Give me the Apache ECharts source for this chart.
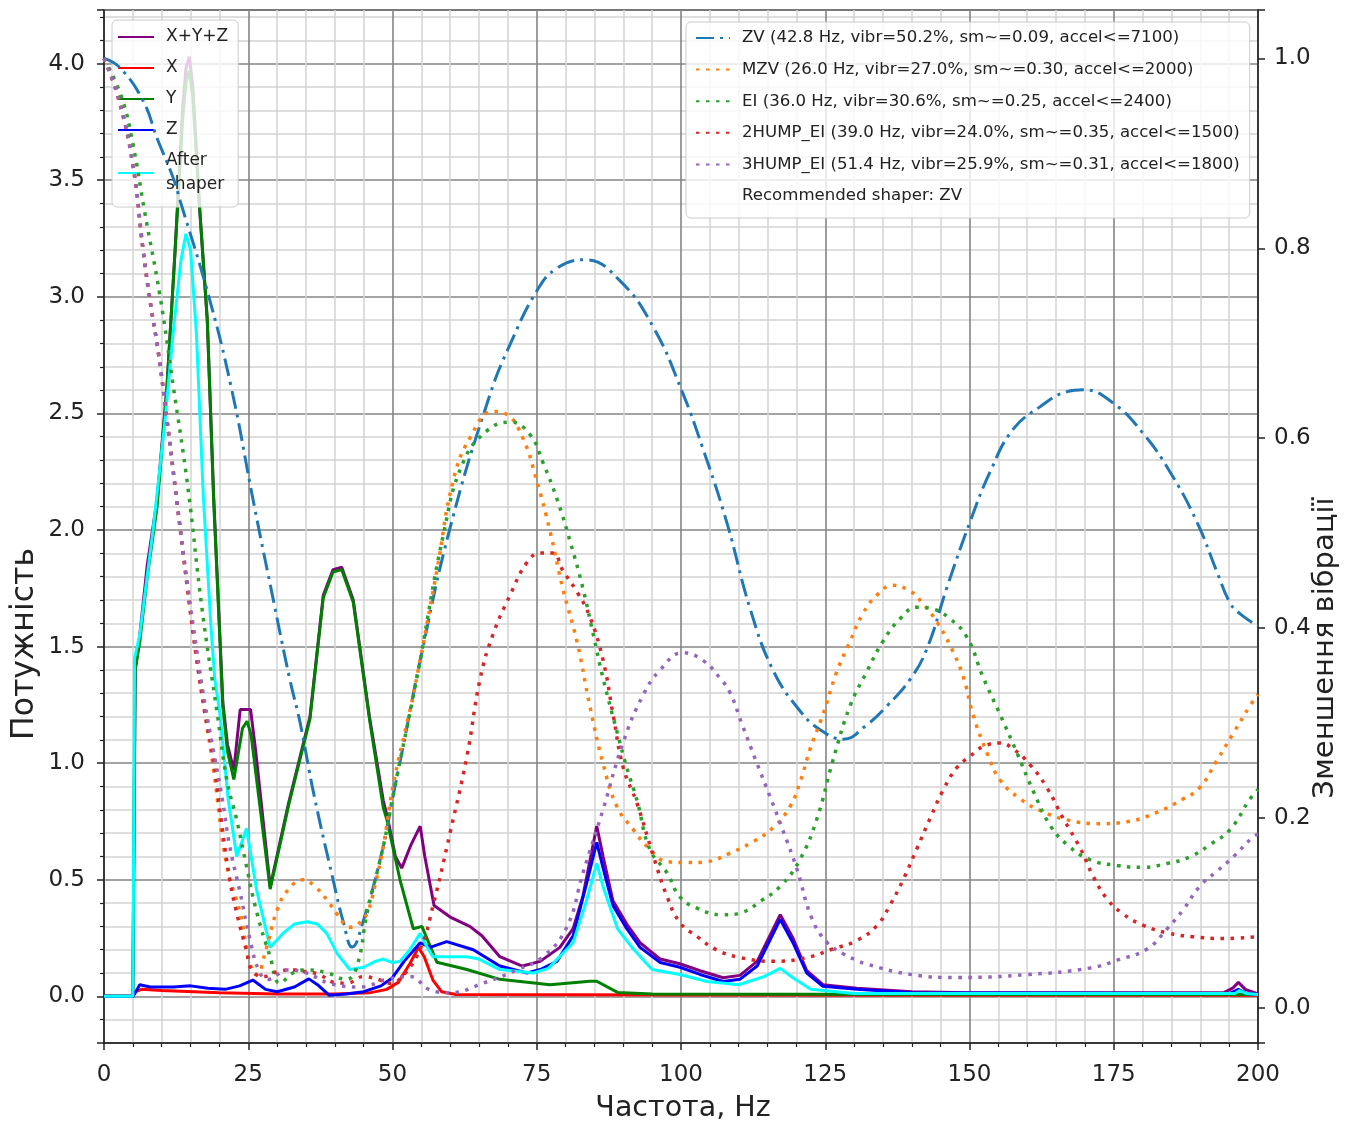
<!DOCTYPE html>
<html>
<head>
<meta charset="utf-8">
<script src="https://cdn.jsdelivr.net/npm/echarts@6.0.0/dist/echarts.min.js"></script>
<style>
html,body{margin:0;padding:0;background:#fff;}
#chart{width:1354px;height:1126px;}
</style>
</head>
<body>
<div id="chart"></div>
<script>
// ---------- tick labels / axis titles ----------
const xTitle = 'Частота, Hz';
const yLeftTitle = 'Потужність';
const yRightTitle = 'Зменшення вібрації';

// ---------- PSD series (left axis), [Hz, power] ----------
const psdXYZ = [[0,0],[5,0],[5.4,1.4],[6.2,1.55],[7.5,1.85],[9.2,2.13],[10.9,2.61],[12.3,3.19],[12.8,3.42],[13.6,3.8],[14.2,3.98],[14.8,4.03],[15.4,3.9],[16.6,3.37],[17.9,2.9],[19.0,2.15],[20.6,1.26],[21.4,1.08],[22.5,0.97],[23.6,1.23],[25.4,1.23],[26.3,1.05],[28.8,0.47],[32,0.83],[35.7,1.2],[38,1.72],[39.7,1.83],[41.2,1.84],[43.2,1.7],[46,1.2],[48.4,0.84],[49.2,0.76],[50.5,0.6],[51.6,0.55],[53.2,0.65],[54.8,0.73],[55.6,0.6],[57.2,0.39],[60,0.34],[63.4,0.3],[65.5,0.26],[68.6,0.17],[72.5,0.13],[75.6,0.15],[79,0.21],[81.3,0.29],[83,0.43],[84.6,0.63],[85.4,0.73],[86.5,0.6],[88.2,0.41],[90.6,0.31],[92.9,0.23],[96.4,0.16],[99.8,0.14],[103.3,0.11],[107.3,0.08],[110.2,0.09],[113.2,0.15],[115.4,0.26],[117.2,0.35],[119.4,0.25],[121.8,0.11],[124.6,0.05],[130.5,0.035],[140,0.02],[150,0.015],[170,0.015],[194,0.015],[195.6,0.035],[196.6,0.06],[197.8,0.03],[200,0.01]];
const psdX = [[0,0],[5,0],[5.5,0.02],[6.5,0.03],[10,0.025],[20,0.015],[30,0.01],[40,0.01],[46,0.015],[49,0.03],[51,0.06],[53,0.14],[54.5,0.21],[55.5,0.17],[57,0.07],[58.5,0.02],[61,0.008],[100,0.006],[150,0.005],[200,0.005]];
const psdY = [[0,0],[5,0],[5.4,1.4],[6.2,1.52],[7.5,1.8],[9.2,2.1],[10.9,2.61],[12.3,3.19],[12.8,3.4],[13.6,3.75],[14.2,3.92],[14.8,3.97],[15.4,3.85],[16.6,3.37],[17.9,2.9],[19.0,2.13],[20.6,1.24],[21.4,1.05],[22.5,0.93],[24.0,1.15],[24.8,1.18],[25.5,1.12],[28.8,0.46],[32,0.82],[35.7,1.19],[38,1.71],[39.7,1.82],[41.2,1.83],[43.2,1.69],[46,1.19],[48.4,0.81],[49,0.76],[51.3,0.5],[53.6,0.29],[55.1,0.3],[57.7,0.146],[62.9,0.115],[68.6,0.073],[77.3,0.05],[84.2,0.065],[85.4,0.065],[89,0.017],[95,0.01],[150,0.008],[200,0.008]];
const psdZ = [[0,0],[5,0],[5.5,0.02],[6.2,0.05],[8,0.04],[12,0.04],[15,0.045],[18,0.035],[21,0.03],[23.5,0.045],[25.8,0.07],[28,0.03],[30,0.02],[33,0.04],[35.5,0.075],[37,0.05],[39,0.005],[42,0.01],[45,0.02],[48,0.045],[50,0.08],[52,0.15],[54.8,0.23],[56.5,0.21],[59.4,0.235],[64,0.2],[68.6,0.13],[73.3,0.1],[75.6,0.115],[78.5,0.15],[81.3,0.26],[83.7,0.49],[85.4,0.66],[86.5,0.55],[88.2,0.39],[90.6,0.29],[92.9,0.21],[96.4,0.145],[99.8,0.125],[103.3,0.094],[107.3,0.064],[110.2,0.073],[113.2,0.13],[115.4,0.24],[117.2,0.33],[119.4,0.23],[121.8,0.1],[124.6,0.043],[130.5,0.03],[140,0.015],[195,0.012],[196.6,0.03],[198,0.012],[200,0.008]];
const psdAfter = [[0,0],[5,0],[5.3,1.45],[6.2,1.55],[8.5,2.0],[10.5,2.45],[12,2.85],[13.3,3.15],[14.2,3.27],[15,3.2],[16,2.85],[17.2,2.15],[18.5,1.6],[19.2,1.36],[20.1,1.21],[21.5,0.85],[23,0.6],[24.7,0.72],[26.5,0.45],[28.8,0.21],[31,0.27],[33,0.31],[35.2,0.32],[37,0.31],[38.6,0.27],[40.5,0.18],[42.6,0.115],[45,0.125],[47,0.15],[48.4,0.16],[50,0.145],[51.3,0.15],[53,0.2],[54.8,0.27],[55.8,0.22],[57,0.17],[62.9,0.17],[65,0.16],[68.6,0.115],[74.4,0.1],[77,0.12],[81.3,0.23],[83.5,0.4],[85.4,0.57],[86.5,0.47],[89,0.29],[91.5,0.21],[95,0.115],[99.8,0.094],[104.5,0.064],[110,0.05],[114.5,0.086],[117.2,0.12],[119.4,0.08],[122.5,0.03],[130,0.012],[196,0.012],[196.8,0.025],[198,0.012],[200,0.008]];

// ---------- shaper response (right axis), [Hz, reduction] ----------
const shZV = [[0,1.0],[2.8,0.99],[6.8,0.955],[9.2,0.916],[12,0.874],[13.2,0.85],[17.9,0.755],[22,0.655],[26,0.53],[29,0.44],[32.2,0.346],[34,0.3],[36.3,0.227],[39.7,0.135],[41.5,0.09],[43,0.064],[45,0.093],[48.4,0.17],[50,0.22],[52,0.28],[54.8,0.366],[60,0.506],[66.9,0.646],[70.4,0.699],[75,0.755],[78.5,0.779],[83.4,0.788],[89.4,0.766],[95.2,0.717],[100.2,0.649],[103.8,0.589],[108,0.51],[112,0.42],[116,0.355],[120.6,0.313],[124.1,0.293],[128.1,0.283],[132.2,0.298],[135.7,0.318],[139.7,0.346],[142.6,0.378],[146.1,0.443],[150.1,0.512],[153.6,0.565],[157.5,0.609],[162.2,0.633],[166.9,0.649],[169.7,0.651],[174.9,0.637],[180.1,0.605],[184.7,0.565],[189.4,0.512],[192.9,0.459],[195.2,0.426],[196.9,0.415],[200,0.402]];
const shMZV = [[0,1.0],[2.5,0.958],[5,0.888],[6.8,0.797],[8,0.744],[9.4,0.691],[10.9,0.62],[12.7,0.53],[14.5,0.44],[16,0.37],[17.5,0.31],[19,0.25],[21.3,0.149],[23.6,0.1],[25.3,0.047],[26.5,0.035],[28,0.06],[30,0.103],[32,0.125],[34.5,0.135],[36.5,0.128],[38.6,0.114],[40.5,0.098],[42.6,0.085],[44,0.088],[45.6,0.1],[47,0.13],[48.4,0.17],[50.1,0.234],[52.5,0.3],[53.6,0.329],[57.7,0.461],[60.5,0.555],[63.4,0.6],[67.4,0.628],[69.8,0.625],[72.6,0.6],[75,0.555],[77.3,0.502],[79.5,0.442],[82,0.385],[84.2,0.318],[86.5,0.257],[88.9,0.212],[91.7,0.188],[94.6,0.167],[97.6,0.154],[101,0.153],[104.5,0.154],[108.5,0.163],[112.5,0.175],[116,0.19],[118.9,0.212],[120.6,0.237],[122.4,0.273],[124.6,0.309],[127,0.354],[129.3,0.386],[131.5,0.415],[134,0.435],[136.7,0.445],[139.7,0.439],[141.9,0.426],[144.4,0.406],[146.6,0.382],[148.9,0.349],[150.6,0.309],[153,0.269],[155.3,0.24],[158.8,0.22],[162.2,0.208],[166.9,0.198],[172.6,0.194],[177.3,0.196],[182.5,0.206],[187,0.22],[189.9,0.232],[192.9,0.261],[195.7,0.289],[198.6,0.318],[200,0.33]];
const shEI = [[0,1.0],[3,0.96],[5,0.91],[7,0.84],[9.7,0.75],[12,0.655],[14.5,0.55],[17,0.42],[19.6,0.311],[21.3,0.24],[23,0.198],[24.7,0.149],[26.5,0.1],[28.8,0.054],[30.5,0.026],[32.8,0.037],[35.2,0.04],[38.6,0.037],[42,0.03],[43.8,0.043],[45.6,0.1],[48.4,0.17],[50.1,0.224],[54.2,0.347],[58.8,0.498],[62.2,0.574],[66.4,0.608],[70.4,0.617],[73.8,0.604],[76.1,0.574],[78.5,0.536],[80.8,0.491],[83,0.442],[84.8,0.393],[86.5,0.347],[88.9,0.291],[90.6,0.253],[92.4,0.218],[94.6,0.167],[97.6,0.142],[99.8,0.117],[102.8,0.105],[107.3,0.098],[110.8,0.101],[113.7,0.112],[117.2,0.128],[120.6,0.156],[123.6,0.2],[126.3,0.26],[129.3,0.318],[132.2,0.354],[135,0.386],[138,0.41],[140.9,0.422],[143.7,0.42],[146.6,0.41],[149.6,0.39],[152.3,0.349],[155.3,0.309],[158.2,0.269],[161,0.229],[164,0.192],[166.9,0.172],[170.9,0.156],[175.6,0.15],[180.1,0.148],[184.2,0.152],[188.2,0.159],[191.7,0.172],[195.2,0.188],[198.6,0.22],[200,0.23]];
const sh2HUMP = [[0,1.0],[2.5,0.958],[5,0.888],[6.8,0.797],[8,0.744],[9.4,0.691],[10.9,0.62],[12.7,0.53],[14.5,0.44],[16,0.37],[17.5,0.31],[19,0.26],[20,0.212],[21.8,0.135],[23,0.1],[24.7,0.06],[25.6,0.04],[27.6,0.033],[30,0.038],[32.8,0.04],[35,0.038],[37.4,0.035],[39.7,0.027],[42.1,0.026],[45,0.033],[47.5,0.03],[49.6,0.026],[52,0.035],[55,0.065],[57,0.107],[60,0.185],[62.9,0.265],[65.2,0.347],[67.4,0.393],[70.4,0.435],[73.3,0.469],[75.6,0.479],[77.8,0.479],[79.5,0.461],[82,0.438],[84.2,0.412],[86.5,0.366],[88.2,0.31],[90,0.253],[92.4,0.215],[95.2,0.16],[97.6,0.117],[99.8,0.09],[102.8,0.075],[106.2,0.061],[110.2,0.053],[116,0.049],[121.8,0.053],[126.3,0.062],[130.5,0.071],[134,0.087],[136.2,0.108],[138.5,0.135],[140.9,0.168],[143.2,0.2],[145.4,0.229],[147.8,0.253],[150.1,0.265],[152.3,0.275],[155.3,0.279],[157.5,0.273],[160.5,0.256],[163.4,0.232],[166.2,0.2],[169.2,0.168],[171.4,0.139],[173.8,0.115],[176.6,0.099],[180.1,0.087],[184.2,0.079],[188.7,0.075],[193.9,0.073],[200,0.075]];
const sh3HUMP = [[0,1.0],[2.5,0.958],[5,0.888],[6.8,0.797],[8,0.744],[9.4,0.691],[10.9,0.62],[12.7,0.53],[14.5,0.445],[16,0.38],[17.5,0.32],[19,0.27],[20.5,0.22],[21.8,0.17],[23.6,0.121],[25.3,0.072],[27,0.037],[28.5,0.03],[31.7,0.04],[35,0.037],[39,0.026],[44.4,0.022],[49,0.03],[53,0.033],[56.5,0.019],[60,0.016],[65.7,0.026],[71.6,0.04],[76.1,0.054],[80.2,0.085],[83,0.142],[86.5,0.209],[90,0.28],[93.4,0.329],[96.4,0.356],[100.3,0.374],[103.8,0.366],[106.8,0.347],[108.5,0.332],[110.5,0.3],[113,0.26],[115.4,0.223],[117.6,0.188],[120.1,0.146],[122.7,0.094],[125.3,0.069],[128.1,0.057],[130.5,0.05],[132.2,0.046],[140,0.035],[148,0.032],[160,0.035],[170.9,0.042],[176,0.051],[180.8,0.062],[184.2,0.083],[187,0.103],[189.9,0.128],[192.9,0.144],[195.7,0.159],[199.1,0.18],[200,0.183]];

// ---------- names ----------
const psdNames = ['X+Y+Z', 'X', 'Y', 'Z', 'After\nshaper'];
const shaperNames = [
  'ZV (42.8 Hz, vibr=50.2%, sm~=0.09, accel<=7100)',
  'MZV (26.0 Hz, vibr=27.0%, sm~=0.30, accel<=2000)',
  'EI (36.0 Hz, vibr=30.6%, sm~=0.25, accel<=2400)',
  '2HUMP_EI (39.0 Hz, vibr=24.0%, sm~=0.35, accel<=1500)',
  '3HUMP_EI (51.4 Hz, vibr=25.9%, sm~=0.31, accel<=1800)'
];
const recommendedText = 'Recommended shaper: ZV';

const FONT = 'DejaVu Sans';
const psdColors = ['#800080', '#ff0000', '#008000', '#0000ff', '#00ffff'];
const shaperColors = ['#1f77b4', '#ff7f0e', '#2ca02c', '#d62728', '#9467bd'];
const psdData = [psdXYZ, psdX, psdY, psdZ, psdAfter];
const shaperData = [shZV, shMZV, shEI, sh2HUMP, sh3HUMP];

const series = [];
psdData.forEach((d, i) => {
  series.push({
    name: psdNames[i], type: 'line', xAxisIndex: 0, yAxisIndex: 0,
    data: d, symbol: 'none', showSymbol: false, z: 2,
    lineStyle: { color: psdColors[i], width: 3 },
    itemStyle: { color: psdColors[i] },
    emphasis: { disabled: true }
  });
});
shaperData.forEach((d, i) => {
  series.push({
    name: shaperNames[i], type: 'line', xAxisIndex: 0, yAxisIndex: 1,
    data: d, symbol: 'none', showSymbol: false, z: 5,
    smooth: 0.45,
    lineStyle: { color: shaperColors[i], width: i === 0 ? 3 : 3.5, type: i === 0 ? [18, 6, 3, 6] : [3.5, 6.5] },
    itemStyle: { color: shaperColors[i] },
    emphasis: { disabled: true }
  });
});
series.push({
  name: recommendedText, type: 'line', xAxisIndex: 0, yAxisIndex: 1, data: [],
  symbol: 'none', lineStyle: { color: 'rgba(0,0,0,0)', width: 0 }, itemStyle: { color: 'rgba(0,0,0,0)' }
});

function isMult(v, step) {
  const r = v / step;
  return Math.abs(r - Math.round(r)) < 1e-6;
}

const titleStyle = (txt, size) => ({
  text: txt, font: size + 'px "DejaVu Sans"', fill: '#222',
  align: 'center', verticalAlign: 'middle', textAlign: 'center', textVerticalAlign: 'middle'
});

const option = {
  animation: false,
  backgroundColor: '#ffffff',
  textStyle: { fontFamily: FONT },
  grid: { left: 104, right: 96, top: 10, bottom: 83, show: true, borderColor: '#222', borderWidth: 1.5, backgroundColor: 'rgba(0,0,0,0)' },
  xAxis: [{
    type: 'value', min: 0, max: 200, interval: 25,
    axisLine: { show: true, onZero: false, lineStyle: { color: '#222', width: 1.5 } },
    axisTick: { show: true, length: 7, lineStyle: { color: '#222', width: 1.5 } },
    minorTick: { show: true, splitNumber: 5, length: 4, lineStyle: { color: '#222', width: 1.2 } },
    axisLabel: { fontFamily: FONT, fontSize: 23, color: '#222', margin: 21 },
    splitLine: { show: true, lineStyle: { color: '#858585', width: 1.6 } },
    minorSplitLine: { show: true, lineStyle: { color: '#d4d4d4', width: 1.5 } }
  }],
  yAxis: [{
    type: 'value', position: 'left', min: -0.2, max: 4.23, minInterval: 0.5, maxInterval: 0.5, splitNumber: 9,
    axisLine: { show: true, onZero: false, lineStyle: { color: '#222', width: 1.5 } },
    axisTick: { show: true, length: 7, lineStyle: { color: '#222', width: 1.5 } },
    minorTick: { show: true, splitNumber: 5, length: 4, lineStyle: { color: '#222', width: 1.2 } },
    axisLabel: {
      fontFamily: FONT, fontSize: 23, color: '#222', margin: 19,
      formatter: v => (isMult(v, 0.5) && v > -0.01 && v < 4.01) ? v.toFixed(1) : ''
    },
    splitLine: { show: true, lineStyle: { color: '#858585', width: 1.6 } },
    minorSplitLine: { show: true, lineStyle: { color: '#d4d4d4', width: 1.5 } }
  }, {
    type: 'value', position: 'right', min: -0.037, max: 1.051, minInterval: 0.2, maxInterval: 0.2, splitNumber: 5,
    axisLine: { show: true, onZero: false, lineStyle: { color: '#222', width: 1.5 } },
    axisTick: { show: true, length: 7, lineStyle: { color: '#222', width: 1.5 } },
    axisLabel: {
      fontFamily: FONT, fontSize: 23, color: '#222', margin: 16,
      formatter: v => (isMult(v, 0.2) && v > -0.01 && v < 1.01) ? v.toFixed(1) : ''
    },
    splitLine: { show: false }
  }],
  legend: [{
    id: 'psd', data: psdNames, orient: 'vertical', left: 112, top: 20,
    padding: [5, 10, 10, 5], itemWidth: 36, itemHeight: 14, itemGap: 7,
    backgroundColor: 'rgba(255,255,255,0.8)', borderColor: '#cccccc', borderWidth: 1, borderRadius: 5,
    selectedMode: false, z: 3,
    itemStyle: { opacity: 0 },
    textStyle: { fontFamily: FONT, fontSize: 17, color: '#222', lineHeight: 24, padding: [0, 0, 0, 7] }
  }, {
    id: 'shaper',
    data: shaperNames.concat([{ name: recommendedText, itemStyle: { opacity: 0 }, lineStyle: { opacity: 0 } }]),
    orient: 'vertical', left: 686, top: 22,
    padding: [4, 10, 10, 9], itemWidth: 34, itemHeight: 14, itemGap: 7.6,
    backgroundColor: 'rgba(255,255,255,0.8)', borderColor: '#cccccc', borderWidth: 1, borderRadius: 5,
    selectedMode: false, z: 8,
    itemStyle: { opacity: 0 },
    textStyle: { fontFamily: FONT, fontSize: 16.6, color: '#222', lineHeight: 24, padding: [0, 0, 0, 7] }
  }],
  graphic: [
    { type: 'text', x: 683, y: 1109, z: 10, style: titleStyle(xTitle, 28.5) },
    { type: 'text', x: 25, y: 644, rotation: Math.PI / 2, z: 10, style: titleStyle(yLeftTitle, 31.5) },
    { type: 'text', x: 1325, y: 648, rotation: Math.PI / 2, z: 10, style: titleStyle(yRightTitle, 29) }
  ],
  series: series
};

const chart = echarts.init(document.getElementById('chart'), null, { renderer: 'canvas', width: 1354, height: 1126 });
chart.setOption(option);
</script>
</body>
</html>
